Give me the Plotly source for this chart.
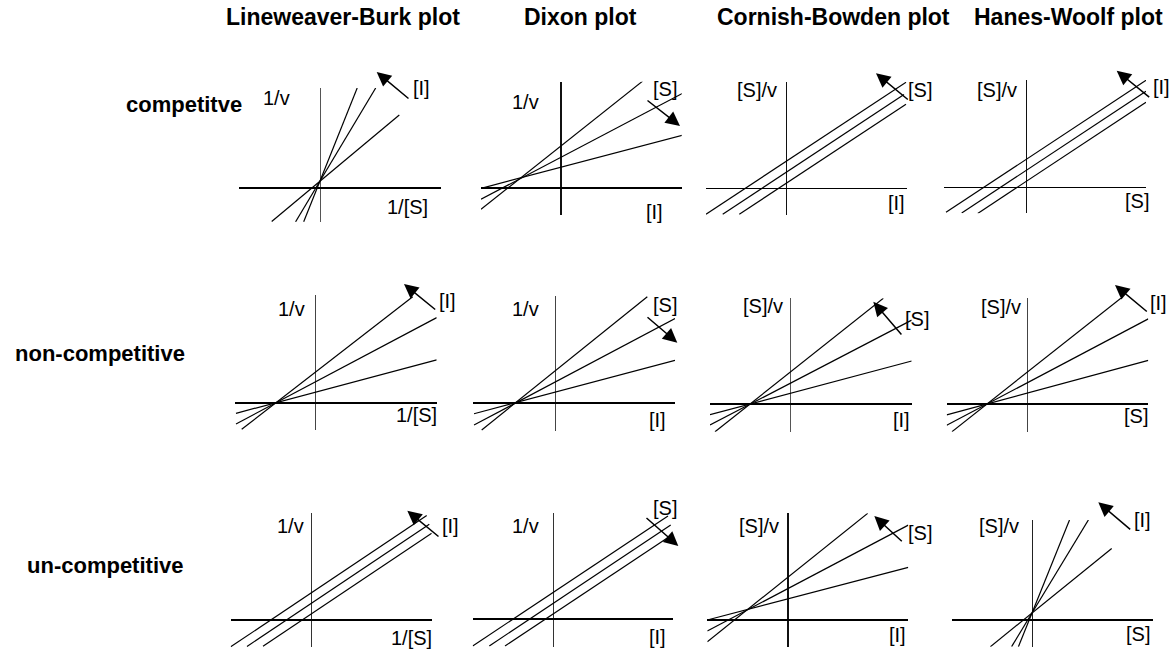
import plotly.graph_objects as go

# ---------------- data (local schematic units, origin at axis crossing) ----------------
plot_titles = ["Lineweaver-Burk plot", "Dixon plot", "Cornish-Bowden plot", "Hanes-Woolf plot"]
row_titles = ["competitve", "non-competitive", "un-competitive"]

# each panel: three straight lines y = icpt + slope*x drawn from x0 to x1
lb_comp = dict(slope=[0.834, 1.67, 2.5], icpt=[6.8, 7.0, 7.0], x0=[-48.3, -24.4, -16.3], x1=[79.3, 55.7, 37.2])
dx_comp = dict(slope=[0.793, 0.526, 0.264], icpt=[42.1, 30.8, 20.8], x0=[-80, -80, -80], x1=[81.7, 121.7, 121.7])
cb_comp = dict(slope=[0.66, 0.66, 0.66], icpt=[26.5, 15.5, 4.5], x0=[-80, -63.3, -46.7], x1=[120, 118, 120])
hw_comp = dict(slope=[0.66, 0.66, 0.66], icpt=[27.5, 16.5, 5.5], x0=[-80, -64.3, -48.3], x1=[120, 120, 120])

lb_ncomp = dict(slope=[0.775, 0.53, 0.266], icpt=[30.5, 20.9, 10.7], x0=[-73.3, -79, -79], x1=[97.7, 121.7, 121.7])
dx_ncomp = dict(slope=[0.805, 0.53, 0.266], icpt=[32.0, 20.9, 10.8], x0=[-73.3, -81, -81], x1=[92.3, 120, 120])
cb_ncomp = dict(slope=[0.793, 0.52, 0.266], icpt=[31.7, 20.6, 10.6], x0=[-75, -80, -80], x1=[93.3, 121.7, 121.7])
hw_ncomp = dict(slope=[0.79, 0.528, 0.27], icpt=[31.6, 21.1, 10.8], x0=[-75, -80.3, -80.3], x1=[96.3, 121.3, 121.3])

lb_ucomp = dict(slope=[0.67, 0.67, 0.67], icpt=[27.0, 16.5, 6.0], x0=[-80.3, -64, -48], x1=[115.7, 118.3, 120.7])
dx_ucomp = dict(slope=[0.666, 0.666, 0.666], icpt=[26.5, 15.5, 5.0], x0=[-80.3, -63.7, -48], x1=[115, 117.7, 120.3])
cb_ucomp = dict(slope=[0.8, 0.527, 0.262], icpt=[42.9, 31.5, 21.1], x0=[-80.7, -80.7, -80.7], x1=[79.7, 120.3, 120.3])
hw_ucomp = dict(slope=[0.81, 1.65, 2.48], icpt=[7.0, 7.0, 7.0], x0=[-41.6, -20.4, -13.6], x1=[79.7, 56.4, 37.5])

panels = [lb_comp, dx_comp, cb_comp, hw_comp,
          lb_ncomp, dx_ncomp, cb_ncomp, hw_ncomp,
          lb_ucomp, dx_ucomp, cb_ucomp, hw_ucomp]

# axis extents (x axis range, y axis range) per panel
x_extent = [(-81, 121), (-80, 120.7), (-80, 121.3), (-82, 120),
            (-80, 121.7), (-81.7, 120), (-80, 121.7), (-80.3, 121.3),
            (-80.3, 120.7), (-80.3, 120.3), (-80.7, 120.3), (-80.3, 120.7)]
y_extent = [(-34, 100), (-27, 106.3), (-27, 106), (-26.3, 107),
            (-27, 108), (-28, 107), (-27.7, 105.7), (-27.7, 106),
            (-27.3, 106.7), (-27.7, 105.7), (-26.7, 106.7), (-26.7, 100)]

# arrows: tail -> head
arrow_tail = [(90, 88.3), (85, 88.7), (123.3, 87.3), (124.7, 88.7),
              (121.7, 92.3), (91, 87), (112.7, 68), (121.3, 91.3),
              (129, 82.3), (92, 102.3), (115.3, 77.3), (99.7, 89.3)]
arrow_head = [(56.7, 116), (119, 62), (90, 114.7), (90.7, 116.3),
              (89, 119), (122.3, 60.3), (83.3, 102.3), (88, 119),
              (96.3, 109.3), (125.3, 73), (86.3, 104), (66.3, 117.7)]

# axis labels: (text, x, y)
y_labels = [("1/v", -44, 90), ("1/v", -35.5, 86.5), ("[S]/v", -29.5, 98.5), ("[S]/v", -29, 97.5),
            ("1/v", -23.5, 94.5), ("1/v", -29.5, 94.5), ("[S]/v", -27.5, 98.5), ("[S]/v", -26.2, 97.3),
            ("1/v", -21, 94), ("1/v", -27.5, 93), ("[S]/v", -29, 94.5), ("[S]/v", -33, 94)]
x_labels = [("1/[S]", 87.5, -19), ("[I]", 93.5, -23.5), ("[I]", 110.5, -14.5), ("[S]", 110.5, -13.5),
            ("1/[S]", 101, -12), ("[I]", 102.5, -17), ("[I]", 112, -16), ("[S]", 108.5, -11.5),
            ("1/[S]", 100, -17.5), ("[I]", 104.5, -17.5), ("[I]", 109.5, -14.5), ("[S]", 106, -14)]
arrow_labels = [("[I]", 101.5, 100), ("[S]", 104, 99), ("[S]", 134, 98), ("[I]", 135.5, 100.5),
                ("[I]", 132.5, 102.5), ("[S]", 109.7, 98), ("[S]", 126.5, 85.5), ("[I]", 131.5, 101.5),
                ("[I]", 139.5, 94), ("[S]", 111.7, 110.7), ("[S]", 132, 87), ("[I]", 110.3, 100)]

# ---------------- layout / style ----------------
W, H = 1173, 649
origins = [(320, 188), (561, 188), (786, 188), (1026, 187),
           (315, 403), (555, 403), (790, 404), (1027, 404),
           (311, 620), (553, 619), (788, 620), (1032, 620)]
h_axis_w = [2.2, 1.6, 1.1, 1.2, 2.2, 1.6, 2.2, 1.6, 2.2, 2.2, 2.2, 2.2]
v_axis_w = [1.1, 1.6, 1.4, 1.4, 1.1, 1.1, 1.1, 1.1, 1.1, 1.1, 1.8, 1.4]
v_axis_c = ["#555", "#111", "#111", "#111", "#444", "#444", "#555", "#444", "#333", "#333", "#111", "#222"]

FONT = "Arial, Liberation Sans, sans-serif"
LABEL_SIZE = 20

fig = go.Figure()
annotations = []
layout = {}

for i, p in enumerate(panels):
    k = i + 1
    xa = "x" if k == 1 else f"x{k}"
    ya = "y" if k == 1 else f"y{k}"
    for s, b, x0, x1 in zip(p["slope"], p["icpt"], p["x0"], p["x1"]):
        fig.add_trace(go.Scatter(x=[x0, x1], y=[b + s * x0, b + s * x1], mode="lines",
                                 line=dict(color="black", width=1.2), xaxis=xa, yaxis=ya,
                                 hoverinfo="skip", showlegend=False))
    ox, oy = origins[i]
    xl, xr = x_extent[i]
    yb, yt = y_extent[i]
    layout[f"xaxis{k}"] = dict(domain=[(ox + xl) / W, (ox + xr) / W], range=[xl, xr], anchor=ya,
                               showgrid=False, showticklabels=False, ticks="", showline=False,
                               zeroline=True, zerolinecolor=v_axis_c[i], zerolinewidth=v_axis_w[i],
                               fixedrange=True)
    layout[f"yaxis{k}"] = dict(domain=[(H - oy + yb) / H, (H - oy + yt) / H], range=[yb, yt], anchor=xa,
                               showgrid=False, showticklabels=False, ticks="", showline=False,
                               zeroline=True, zerolinecolor="black", zerolinewidth=h_axis_w[i],
                               fixedrange=True)
    # labels placed in paper coordinates (1 local unit == 1 px)
    for txt, tx, ty in (y_labels[i], x_labels[i], arrow_labels[i]):
        annotations.append(dict(text=txt, x=(ox + tx) / W, y=(H - oy + ty) / H,
                                xref="paper", yref="paper", showarrow=False,
                                xanchor="center", yanchor="middle",
                                font=dict(family=FONT, size=LABEL_SIZE, color="black")))
    (tx0, ty0), (hx, hy) = arrow_tail[i], arrow_head[i]
    annotations.append(dict(text="", x=(ox + hx) / W, y=(H - oy + hy) / H, xref="paper", yref="paper",
                            axref="pixel", ayref="pixel", ax=tx0 - hx, ay=-(ty0 - hy),
                            showarrow=True, arrowhead=2, arrowsize=1.9, arrowwidth=1.5,
                            arrowcolor="black", standoff=0, startstandoff=0))

col_centers = [342.5, 580, 833, 1068.5]
for t, cx in zip(plot_titles, col_centers):
    annotations.append(dict(text=f"<b>{t}</b>", x=cx / W, y=1 - 17 / H, xref="paper", yref="paper",
                            showarrow=False, xanchor="center", yanchor="middle",
                            font=dict(family=FONT, size=23, color="black")))
row_pos = [(184, 104), (100, 353), (105, 565)]
for t, (cx, cy) in zip(row_titles, row_pos):
    annotations.append(dict(text=f"<b>{t}</b>", x=cx / W, y=1 - cy / H, xref="paper", yref="paper",
                            showarrow=False, xanchor="center", yanchor="middle",
                            font=dict(family=FONT, size=22, color="black")))

fig.update_layout(width=W, height=H, margin=dict(l=0, r=0, t=0, b=0),
                  paper_bgcolor="white", plot_bgcolor="rgba(0,0,0,0)",
                  showlegend=False, annotations=annotations, **layout)

fig.write_html("out.html", config={"displayModeBar": False},
               post_script="document.body.style.margin='0px';document.body.style.padding='0px';")
